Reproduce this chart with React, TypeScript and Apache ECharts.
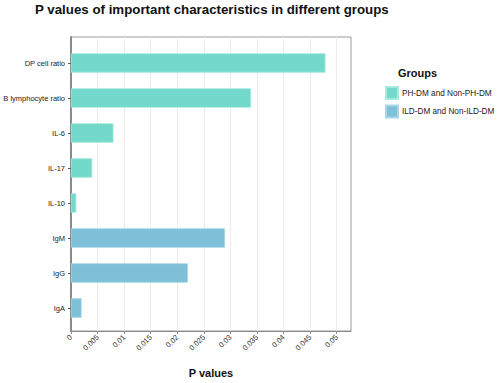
import React, { useEffect, useRef } from "react";
import * as echarts from "echarts";

const categories = ["DP cell ratio", "B lymphocyte ratio", "IL-6", "IL-17", "IL-10", "IgM", "IgG", "IgA"];
const phDmValues = [0.0479, 0.0339, 0.008, 0.004, 0.001, null, null, null];
const ildDmValues = [null, null, null, null, null, 0.029, 0.022, 0.002];
const xTicks = [0, 0.005, 0.01, 0.015, 0.02, 0.025, 0.03, 0.035, 0.04, 0.045, 0.05];
const seriesNames = ["PH-DM and Non-PH-DM", "ILD-DM and Non-ILD-DM"];

const FONT = "'Liberation Sans', Arial, Helvetica, sans-serif";
const X_MAX = 0.0527;

export default function App() {
  const ref = useRef<HTMLDivElement>(null);
  useEffect(() => {
    if (!ref.current) return;
    const chart = echarts.init(ref.current, null, { renderer: "svg" });
    chart.setOption({
      animation: false,
      textStyle: { fontFamily: FONT },
      title: [
        {
          text: "P values of important characteristics in different groups",
          left: 35,
          top: 3,
          padding: 0,
          textStyle: { fontSize: 13.3, fontWeight: "bold", color: "#111", fontFamily: FONT },
        },
        {
          text: "Groups",
          left: 398,
          top: 67,
          padding: 0,
          textStyle: { fontSize: 11, fontWeight: "bold", color: "#111", fontFamily: FONT },
        },
      ],
      legend: {
        orient: "vertical",
        left: 385,
        top: 86,
        padding: 0,
        itemWidth: 12,
        itemHeight: 12,
        itemGap: 4.5,
        icon: "rect",
        textStyle: { fontSize: 8.2, color: "#222", fontFamily: FONT, padding: [0, 0, 0, -1] },
        data: seriesNames,
      },
      grid: [
        { left: 71, top: 37, width: 280, height: 297, show: true, borderColor: "#9a9a9a", borderWidth: 1, containLabel: false },
        { left: 71, top: 45.5, width: 280, height: 280, containLabel: false },
      ],
      xAxis: [
        {
          type: "value",
          gridIndex: 0,
          min: 0,
          max: X_MAX,
          interval: 0.005,
          name: "P values",
          nameLocation: "middle",
          nameGap: 36,
          nameTextStyle: { fontSize: 11, fontWeight: "bold", color: "#111", fontFamily: FONT },
          axisLine: { show: true, lineStyle: { color: "#8a8a8a", width: 1 } },
          axisTick: { show: true, length: 3, lineStyle: { color: "#8a8a8a" }, customValues: xTicks },
          axisLabel: {
            rotate: 45,
            fontSize: 7.5,
            color: "#333",
            margin: 5,
            customValues: xTicks,
            formatter: (v: number) => String(v),
          },
          splitLine: { show: true, lineStyle: { color: "#ececec", width: 1 } },
        },
        {
          type: "value",
          gridIndex: 1,
          min: 0,
          max: X_MAX,
          show: false,
        },
      ],
      yAxis: [
        {
          type: "value",
          gridIndex: 0,
          min: 0,
          max: 1,
          axisLine: { show: true, lineStyle: { color: "#8a8a8a", width: 2 } },
          axisTick: { show: false },
          axisLabel: { show: false },
          splitLine: { show: false },
        },
        {
          type: "category",
          gridIndex: 1,
          inverse: true,
          data: categories,
          axisLine: { show: false },
          axisTick: { show: true, alignWithLabel: true, length: 3, lineStyle: { color: "#555" } },
          axisLabel: { fontSize: 7.5, color: "#222", margin: 6, fontFamily: FONT },
        },
      ],
      series: [
        {
          name: seriesNames[0],
          type: "bar",
          xAxisIndex: 1,
          yAxisIndex: 1,
          stack: "g",
          barWidth: 19.5,
          data: phDmValues,
          itemStyle: { color: "#73dacb", borderColor: "#a6eadf", borderWidth: 0.8 },
        },
        {
          name: seriesNames[1],
          type: "bar",
          xAxisIndex: 1,
          yAxisIndex: 1,
          stack: "g",
          barWidth: 19.5,
          data: ildDmValues,
          itemStyle: { color: "#7dc0d8", borderColor: "#a9d7e8", borderWidth: 0.8 },
        },
      ],
    });
    return () => chart.dispose();
  }, []);
  return (
    <div
      ref={ref}
      style={{ position: "fixed", left: 0, top: 0, width: 500, height: 383, background: "#fff" }}
    />
  );
}
